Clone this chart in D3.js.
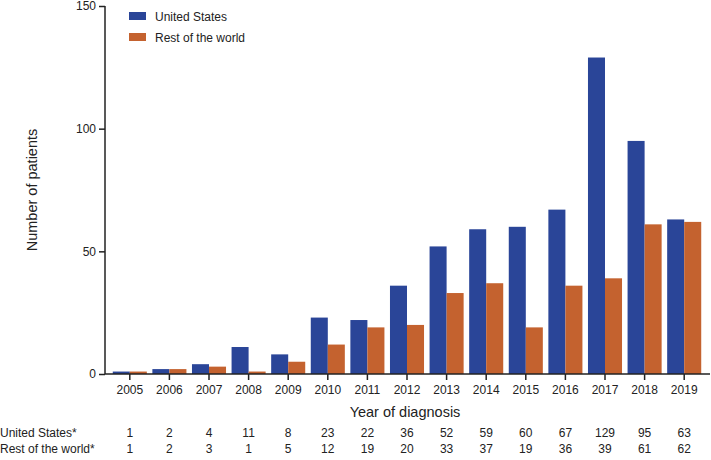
<!DOCTYPE html>
<html><head><meta charset="utf-8">
<script src="https://cdn.jsdelivr.net/npm/d3@7"></script>
<style>body{margin:0;background:#fff}svg{font-family:"Liberation Sans",Arial,sans-serif}</style>
</head><body><svg id="c" width="711" height="460"></svg>
<script>
const years = ["2005","2006","2007","2008","2009","2010","2011","2012","2013","2014","2015","2016","2017","2018","2019"];
const us = [1,2,4,11,8,23,22,36,52,59,60,67,129,95,63];
const row = [1,2,3,1,5,12,19,20,33,37,19,36,39,61,62];
const seriesNames = ["United States","Rest of the world"];
const tableLabels = ["United States*","Rest of the world*"];
const yTicks = [0,50,100,150];
const colors = ["#2a4598","#c4622f"];

const svg = d3.select("#c");
const x = d3.scaleBand().domain(years).range([110,704]).paddingInner(0.14).paddingOuter(0.07);
const xs = d3.scaleBand().domain([0,1]).range([0,x.bandwidth()]);
const y = d3.scaleLinear().domain([0,150]).range([374,6]);

const data = [us,row];
data.forEach((vals,si)=>{
  svg.append("g").selectAll("rect").data(vals).join("rect")
    .attr("x",(d,i)=>x(years[i])+xs(si))
    .attr("y",d=>y(d))
    .attr("width",xs.bandwidth())
    .attr("height",d=>y(0)-y(d))
    .attr("fill",colors[si]);
});

// y axis
const ya = svg.append("g").attr("transform","translate(105,0)")
  .call(d3.axisLeft(y).tickValues(yTicks).tickSize(6).tickPadding(3));
ya.select(".domain").attr("d","M0,6V374").attr("stroke","#222").attr("stroke-width",1.5);
ya.selectAll(".tick line").attr("stroke","#222").attr("stroke-width",1.5);
ya.selectAll("text").attr("font-size",12).attr("fill","#222").attr("font-family","Liberation Sans, Arial, sans-serif");

// x axis
const xa = svg.append("g").attr("transform","translate(0,374)")
  .call(d3.axisBottom(x).tickSize(6).tickPadding(5));
xa.select(".domain").attr("d","M105,0H710").attr("stroke","#222").attr("stroke-width",1.5);
xa.selectAll(".tick line").attr("stroke","#222").attr("stroke-width",1.5);
xa.selectAll("text").attr("font-size",12).attr("fill","#222").attr("font-family","Liberation Sans, Arial, sans-serif");

// axis titles
svg.append("text").attr("x",405).attr("y",417).attr("text-anchor","middle")
  .attr("font-size",14.5).attr("fill","#222").text("Year of diagnosis");
svg.append("text").attr("transform","translate(37,190) rotate(-90)").attr("text-anchor","middle")
  .attr("font-size",14.5).attr("fill","#222").text("Number of patients");

// legend
seriesNames.forEach((n,i)=>{
  svg.append("rect").attr("x",129).attr("y",12+i*21).attr("width",17).attr("height",8).attr("fill",colors[i]);
  svg.append("text").attr("x",155).attr("y",21+i*21).attr("font-size",12).attr("fill","#222").text(n);
});

// table
data.forEach((vals,si)=>{
  const yy = 437+si*16;
  svg.append("text").attr("x",0).attr("y",yy).attr("font-size",12).attr("fill","#222").text(tableLabels[si]);
  svg.append("g").selectAll("text").data(vals).join("text")
    .attr("x",(d,i)=>x(years[i])+x.bandwidth()/2).attr("y",yy)
    .attr("text-anchor","middle").attr("font-size",12).attr("fill","#222").text(d=>d);
});
</script></body></html>
